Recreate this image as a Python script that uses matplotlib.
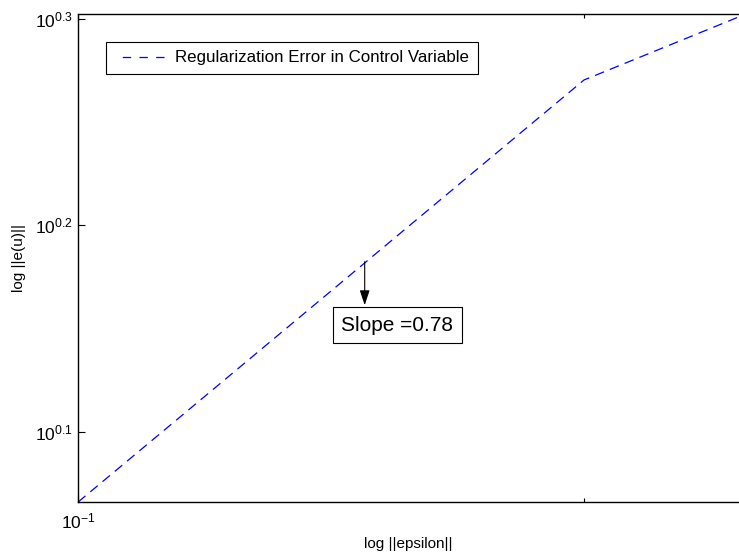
import numpy as np
import matplotlib
matplotlib.use("Agg")
import matplotlib.pyplot as plt
from matplotlib.lines import Line2D

plt.rcParams['font.family'] = ['Liberation Sans', 'DejaVu Sans']
plt.rcParams['mathtext.fontset'] = 'custom'
plt.rcParams['mathtext.rm'] = 'Liberation Sans'
plt.rcParams['mathtext.default'] = 'regular'
plt.rcParams['lines.scale_dashes'] = False

# data (log-log)
epsilon = [0.1, 0.2, 0.2473]
err_u = [1.164, 1.864, 2.0]
series_label = 'Regularization Error in Control Variable'

yticks = [10**0.1, 10**0.2, 10**0.3]
yticklabels = ['$10^{0.1}$', '$10^{0.2}$', '$10^{0.3}$']
xticks = [0.1]
xticklabels = ['$10^{-1}$']

slope_txt = 'Slope =0.78'
arrow_tail = (0.1481, 1.522)
arrow_tip = (0.1481, 1.450)
box_center = (0.1549, 1.418)

fig = plt.figure(figsize=(7.39, 5.56), dpi=100)
ax = fig.add_axes([78/739, 54/556, 661/739, 488/556])

ax.loglog(epsilon, err_u, color=(0, 0, 1), lw=0.9, dashes=(7, 4.5))

ax.set_xlim(0.1, 0.2473)
ax.set_ylim(10**0.066, 10**0.3024)

ax.set_xticks(xticks)
ax.set_xticklabels(xticklabels, fontsize=12.5)
ax.set_xticks([0.2], minor=True)
ax.set_xticklabels([''], minor=True)
ax.set_yticks(yticks)
ax.set_yticklabels(yticklabels, fontsize=12.5)
ax.set_yticks([], minor=True)
ax.tick_params(which='both', direction='in', top=True, right=False)
ax.tick_params(which='major', length=5, width=0.8, pad=4)
ax.tick_params(axis='x', which='major', pad=7)
ax.tick_params(which='minor', length=3, width=0.8)
ax.spines['right'].set_visible(False)
for s in ['left', 'bottom', 'top']:
    ax.spines[s].set_linewidth(1.0)

ax.set_xlabel('log ||epsilon||', fontsize=11, labelpad=4)
ax.set_ylabel('log ||e(u)||', fontsize=11, labelpad=6)

handle = Line2D([], [], color=(0, 0, 1), lw=0.9, linestyle=(6, (6, 6)))
leg = ax.legend([handle], [series_label], loc='upper left',
                bbox_to_anchor=(28/661, 1 - 28/488), borderaxespad=0,
                fontsize=12.2, fancybox=False, framealpha=1, edgecolor='black',
                handlelength=3.0, borderpad=0.5, handletextpad=0.6)
leg.get_frame().set_linewidth(0.8)

ax.annotate('', xy=arrow_tip, xytext=arrow_tail,
            arrowprops=dict(arrowstyle='-|>,head_length=0.9,head_width=0.3',
                            color='black', lw=0.8, shrinkA=0, shrinkB=0))
ax.text(box_center[0], box_center[1], slope_txt, fontsize=15, ha='center', va='center',
        bbox=dict(boxstyle='square,pad=0.42', fc='white', ec='black', lw=0.8))

fig.savefig('out.png', dpi=100)
